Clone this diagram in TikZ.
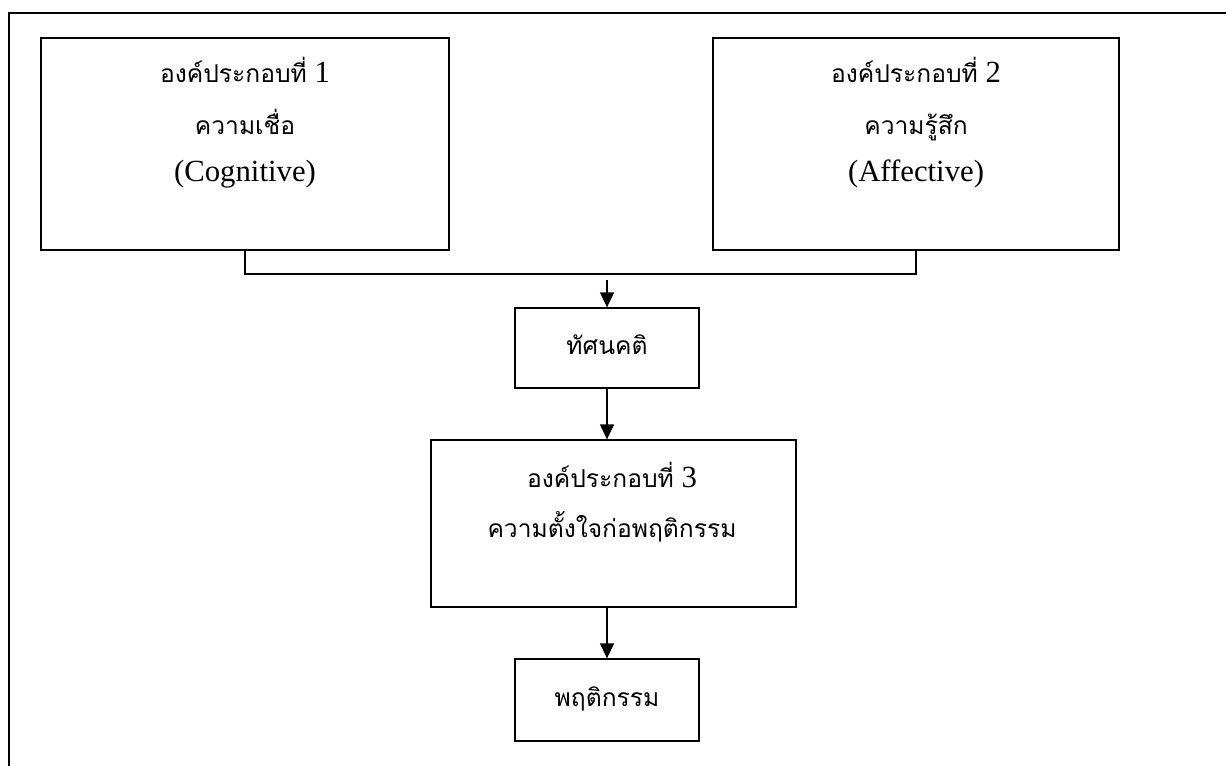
\documentclass[tikz,border=0pt]{standalone}
\usepackage{fontspec}
\setmainfont{Liberation Serif}
\newfontfamily\thaifont[Script=Thai]{Loma}
\usetikzlibrary{arrows.meta}
\tikzstyle{box}=[rectangle, draw=black, line width=0.75pt, inner sep=0pt, anchor=center]
\tikzstyle{annot}=[align=center, inner sep=0pt, anchor=base, font=\fontsize{17.5}{20}\selectfont]
\tikzstyle{link}=[draw=black, line width=0.75pt]
\tikzstyle{arr}=[link, -{Triangle[width=0.28cm,length=0.3cm]}]
\newcommand{\thai}[1]{{\thaifont\fontsize{14}{16}\selectfont #1}}

\begin{document}
\begin{tikzpicture}[x=0.02cm, y=-0.02cm]
	\useasboundingbox (0,0) rectangle (1226,766);
	% outer frame, open at right and bottom
	\draw[line width=1.1pt] (1226,13) -- (9,13) -- (9,766);

	\node[box, minimum width=8.16cm, minimum height=4.24cm](comp1) at (245,144){};
	\node[box, minimum width=8.12cm, minimum height=4.24cm](comp2) at (916,144){};
	\node[box, minimum width=3.68cm, minimum height=1.6cm](attitude) at (607,348){};
	\node[box, minimum width=7.3cm, minimum height=3.34cm](comp3) at (613.5,523.5){};
	\node[box, minimum width=3.68cm, minimum height=1.64cm](behavior) at (607,700){};

	\node[annot](comp1a) at (245,83) {\thai{องค์ประกอบที่} 1};
	\node[annot](comp1b) at (245,135) {\thai{ความเชื่อ}};
	\node[annot](comp1c) at (245,182) {(Cognitive)};

	\node[annot](comp2a) at (916,83) {\thai{องค์ประกอบที่} 2};
	\node[annot](comp2b) at (916,135) {\thai{ความรู้สึก}};
	\node[annot](comp2c) at (916,182) {(Affective)};

	\node[annot](attitudea) at (607,355) {\thai{ทัศนคติ}};

	\node[annot](comp3a) at (612,487) {\thai{องค์ประกอบที่} 3};
	\node[annot](comp3b) at (612,537) {\thai{ความตั้งใจก่อพฤติกรรม}};

	\node[annot](behaviora) at (607,706) {\thai{พฤติกรรม}};

	\coordinate (join) at (607,274);
	\coordinate (joinb) at (607,280);
	\draw[link] (comp1.south) |- (join) -| (comp2.south);
	\draw[arr] (joinb) -- (attitude.north);
	\draw[arr] (attitude.south) -- (attitude.south |- comp3.north);
	\draw[arr] (comp3.south -| behavior.north) -- (behavior.north);

\end{tikzpicture}
\end{document}
